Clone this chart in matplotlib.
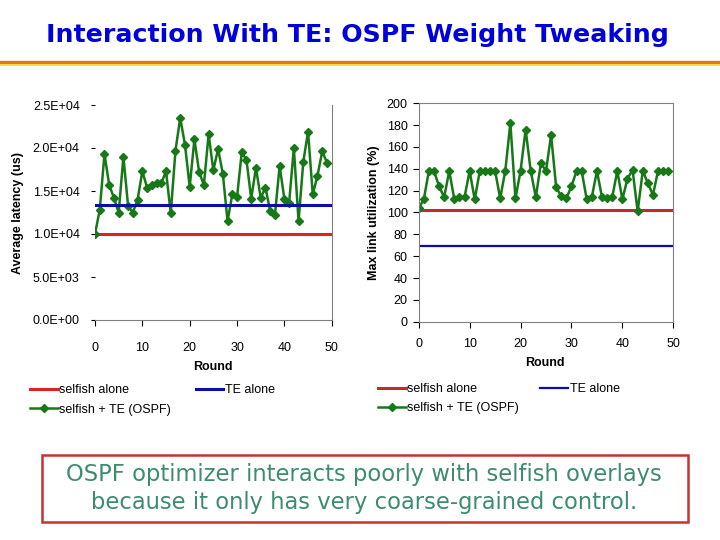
import matplotlib
matplotlib.use("Agg")
import matplotlib.pyplot as plt
from matplotlib.lines import Line2D
from matplotlib.patches import Rectangle
from matplotlib.ticker import FuncFormatter

# data
rounds = list(range(50))

# left chart: average latency (us)
lat_selfish = 10000
lat_te = 13400
lat_ospf = [10000, 12800, 19300, 15700, 14200, 12500, 19000, 13200, 12500, 14000,
            17300, 15400, 15700, 15900, 15900, 17300, 12400, 19700, 23500, 20400,
            15500, 21000, 17200, 15700, 21600, 17400, 19900, 17000, 11500, 14600,
            14300, 19500, 18600, 14100, 17700, 14200, 15400, 12700, 12200, 17900,
            14100, 13600, 20000, 11500, 18400, 21900, 14600, 16800, 19600, 18300]

# right chart: max link utilization (%)
util_selfish = 102
util_te = 69
util_ospf = [104, 112, 138, 138, 124, 114, 138, 112, 114, 114,
             138, 112, 138, 138, 138, 138, 113, 138, 182, 113,
             138, 176, 138, 114, 145, 138, 171, 123, 115, 113,
             124, 138, 138, 112, 114, 138, 114, 113, 114, 138,
             112, 131, 139, 101, 138, 127, 116, 138, 138, 138]

x_ticks = [0, 10, 20, 30, 40, 50]
lat_ticks = [0, 5000, 10000, 15000, 20000, 25000]
util_ticks = list(range(0, 201, 20))

GREEN = '#167816'
BLUE = '#0c0ca8'
RED_L = '#dd2222'
RED_R = '#b8302c'
GREY = '#808080'
FONT = 'Liberation Sans'

plt.rcParams['font.family'] = FONT
fig = plt.figure(figsize=(7.2, 5.4), dpi=100)

# title + rule
fig.text(0.497, 1 - 35/540, 'Interaction With TE: OSPF Weight Tweaking',
         ha='center', va='center', fontsize=18.2, fontweight='bold',
         color='#0000dd', family='DejaVu Sans')
fig.add_artist(Line2D([0, 1], [1 - 61.5/540, 1 - 61.5/540], color='#e07a10', lw=2.4))
fig.add_artist(Line2D([0, 1], [1 - 64.5/540, 1 - 64.5/540], color='#ffd84a', lw=1.5))

# left chart
ax1 = fig.add_axes([95/720, 1 - 320/540, 236.7/720, 215/540])
ax1.axhline(lat_selfish, color=RED_L, lw=2.2, label='selfish alone')
ax1.plot(rounds, lat_ospf, color=GREEN, lw=1.8, marker='D', ms=4.5,
         label='selfish + TE (OSPF)')
ax1.axhline(lat_te, color=BLUE, lw=2.2, label='TE alone')
ax1.set_xlim(0, 50)
ax1.set_ylim(0, 25000)
ax1.set_xticks(x_ticks)
ax1.set_yticks(lat_ticks)
ax1.yaxis.set_major_formatter(FuncFormatter(lambda v, p: '%.1E' % v))
ax1.spines['left'].set_visible(False)
ax1.spines['top'].set_visible(False)
ax1.spines['right'].set_color(GREY)
ax1.spines['bottom'].set_color(GREY)
ax1.tick_params(axis='x', length=4, pad=12, labelsize=9)
ax1.tick_params(axis='y', length=3, pad=8, labelsize=9)
ax1.set_ylabel('Average latency (us)', fontsize=9, fontweight='bold', labelpad=6)
fig.text(213/720, 1 - 367/540, 'Round', ha='center', va='center',
         fontsize=9, fontweight='bold')

# right chart
ax2 = fig.add_axes([418.7/720, 1 - 321.7/540, 254.6/720, 218.4/540])
ax2.axhline(util_selfish, color=RED_R, lw=2.2, label='selfish alone')
ax2.plot(rounds, util_ospf, color=GREEN, lw=1.8, marker='D', ms=4.5,
         label='selfish + TE (OSPF)')
ax2.axhline(util_te, color=BLUE, lw=1.6, label='TE alone')
ax2.set_xlim(0, 50)
ax2.set_ylim(0, 200)
ax2.set_xticks(x_ticks)
ax2.set_yticks(util_ticks)
for s in ax2.spines.values():
    s.set_color(GREY)
ax2.tick_params(axis='x', length=4, pad=8, labelsize=9)
ax2.tick_params(axis='y', length=4, pad=4, labelsize=9)
ax2.set_ylabel('Max link utilization (%)', fontsize=9, fontweight='bold', labelpad=5)
fig.text(545/720, 1 - 363/540, 'Round', ha='center', va='center',
         fontsize=9, fontweight='bold')

# legends (column-major: red, green | blue)
for ax, x0, y0, gap in [(ax1, 30, 384, 1.95), (ax2, 378, 383, 1.7)]:
    h, l = ax.get_legend_handles_labels()
    fig.legend(h, l, loc='upper left', bbox_to_anchor=(x0/720, 1 - y0/540),
               ncol=2, frameon=False, fontsize=9, handlelength=2.2,
               handletextpad=0.15, columnspacing=gap, labelspacing=0.6,
               borderaxespad=0, borderpad=0)

# bottom message box
fig.add_artist(Rectangle((42/720, 1 - 522/540), 646/720, 67/540,
                         transform=fig.transFigure, fill=False,
                         edgecolor='#c83232', lw=1.8))
fig.text(364/720, 1 - 474/540, 'OSPF optimizer interacts poorly with selfish overlays',
         ha='center', va='center', fontsize=16.3, color='#3d8c6e', family='DejaVu Sans')
fig.text(364/720, 1 - 503/540, 'because it only has very coarse-grained control.',
         ha='center', va='center', fontsize=16.3, color='#3d8c6e', family='DejaVu Sans')

fig.savefig('out.png', dpi=100, facecolor='white')
